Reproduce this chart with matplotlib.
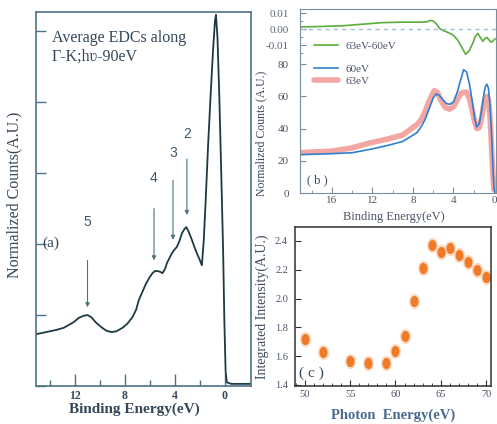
import numpy as np
import matplotlib
matplotlib.use("Agg")
import matplotlib.pyplot as plt
from matplotlib.ticker import MultipleLocator, FixedLocator

plt.rcParams['font.family'] = 'Liberation Serif'

W, H = 497, 424

def box(l, t, r, b):
    # pixel box -> figure fraction
    return [l / W, 1 - b / H, (r - l) / W, (b - t) / H]

### (a) average EDC along Gamma-K, hv = 90 eV
edc_e = [15.1, 14.3, 13.5, 12.9, 12.5, 12.1, 11.7, 11.3, 11.0, 10.7, 10.3, 9.9,
         9.5, 9.1, 8.7, 8.2, 7.8, 7.4, 7.1, 6.9, 6.6, 6.3, 6.0, 5.8, 5.6, 5.4,
         5.2, 5.0, 4.8, 4.65, 4.45, 4.25, 4.05, 3.85, 3.65, 3.45, 3.25, 3.1,
         2.9, 2.65, 2.45, 2.25, 2.05, 1.85, 1.7, 1.55, 1.35, 1.15, 0.95, 0.8,
         0.72, 0.6, 0.45, 0.3, 0.15, 0.05, -0.05, -0.15, -0.5, -2.1]
edc_i = [0.73, 0.76, 0.79, 0.82, 0.86, 0.9, 0.96, 0.99, 1.0, 0.97, 0.89, 0.83,
         0.78, 0.76, 0.77, 0.82, 0.88, 0.97, 1.08, 1.21, 1.33, 1.45, 1.54, 1.59,
         1.62, 1.62, 1.61, 1.59, 1.65, 1.73, 1.8, 1.87, 1.92, 1.96, 2.04, 2.15,
         2.21, 2.24, 2.17, 2.06, 1.96, 1.87, 1.79, 1.7, 2.05, 2.6, 3.4, 4.1,
         4.75, 5.15, 5.23, 4.9, 4.05, 3.0, 1.9, 0.9, 0.2, 0.05, 0.03, 0.03]

peak_labels = ['5', '4', '3', '2']
peak_e = [11.0, 5.68, 4.16, 3.05]
peak_tip = [1.11, 1.77, 2.06, 2.41]
peak_tail = [1.77, 2.5, 2.9, 3.2]
peak_text = [2.31, 2.93, 3.28, 3.55]

### (b) EDCs at 60 eV and 63 eV and their difference
b60_e = [19.3, 18.0, 16.0, 14.0, 12.3, 10.5, 9.0, 7.6, 7.2, 6.8, 6.3, 6.0,
         5.7, 5.4, 5.0, 4.7, 4.36, 4.0, 3.6, 3.3, 3.0, 2.7, 2.4, 2.1, 1.9,
         1.7, 1.45, 1.2, 1.0, 0.85, 0.7, 0.55, 0.4, 0.25, 0.1, 0.0, -0.1]
b60_i = [23.8, 24.0, 24.4, 25.0, 27.0, 29.5, 32.0, 37.5, 41.0, 45.6, 54.0, 59.0,
         61.5, 60.5, 57.5, 55.5, 55.0, 56.5, 63.0, 70.0, 76.5, 75.0, 67.0, 55.0,
         46.0, 41.0, 43.0, 52.0, 61.0, 66.0, 67.5, 65.0, 55.0, 38.0, 15.0, 3.0, 0.0]
b63_e = [19.3, 18.0, 16.0, 14.0, 12.3, 10.5, 9.0, 7.6, 7.2, 6.8, 6.3, 5.9,
         5.6, 5.2, 4.8, 4.4, 4.0, 3.6, 3.3, 3.0, 2.7, 2.4, 2.1, 1.9, 1.7,
         1.45, 1.2, 1.0, 0.85, 0.7, 0.55, 0.4, 0.25, 0.12, 0.0]
b63_i = [25.0, 25.4, 26.0, 28.0, 31.0, 33.5, 36.0, 42.5, 45.5, 50.6, 58.5, 63.5,
         62.5, 57.0, 53.0, 52.0, 53.5, 58.0, 61.5, 62.5, 62.5, 58.0, 50.0, 44.0,
         40.0, 40.5, 47.0, 55.0, 59.0, 60.0, 58.0, 48.0, 30.0, 12.0, 2.0]
diff_e = [19.2, 17.0, 15.0, 13.0, 11.0, 9.0, 7.0, 6.6, 6.3, 6.0, 5.7, 5.35,
          5.0, 4.7, 4.36, 3.96, 3.56, 3.2, 2.8, 2.45, 2.1, 1.85, 1.6, 1.35,
          1.1, 0.9, 0.7, 0.5, 0.3, 0.1, -0.1]
diff_i = [0.0015, 0.0018, 0.0022, 0.0032, 0.0042, 0.0045, 0.0045, 0.0047, 0.0056,
          0.0052, 0.0035, 0.0004, -0.0008, -0.0015, -0.0025, -0.004, -0.0069,
          -0.011, -0.0156, -0.0135, -0.0088, -0.0045, -0.0025, -0.005, -0.0075,
          -0.0058, -0.005, -0.0065, -0.008, -0.0072, -0.006]

### (c) integrated intensity vs photon energy
photon = [50, 52, 55, 57, 59, 60, 61, 62, 63, 64, 65, 66, 67, 68, 69, 70]
intens = [1.72, 1.63, 1.57, 1.55, 1.55, 1.635, 1.74, 1.98, 2.21, 2.37, 2.32,
          2.35, 2.30, 2.255, 2.20, 2.152]

fig = plt.figure(figsize=(W / 100, H / 100), dpi=100)

txt = '#34475a'
frame_a = '#4d7286'

# ---------------- (a)
axa = fig.add_axes(box(36, 12, 251, 386))
axa.plot(edc_e, edc_i, color='#1d3a42', lw=1.3)
axa.set_xlim(15.12, -2.08)
axa.set_ylim(0, 5.27)
axa.xaxis.set_major_locator(FixedLocator([12, 8, 4, 0]))
axa.xaxis.set_minor_locator(FixedLocator([14, 10, 6, 2]))
axa.yaxis.set_major_locator(MultipleLocator(1))
axa.set_yticklabels([])
axa.tick_params(which='both', direction='in', colors=frame_a, labelcolor=txt,
                width=1.0, labelsize=8.5)
axa.tick_params(axis='x', which='major', length=9, pad=3)
axa.tick_params(axis='x', which='minor', length=4)
axa.tick_params(axis='y', which='major', length=7)
for lab in axa.get_xticklabels():
    lab.set_fontweight('bold')
for sp in axa.spines.values():
    sp.set_color(frame_a)
    sp.set_linewidth(1.2)
axa.set_xlabel('Binding Energy(eV)', fontsize=11, fontweight='bold', color=txt,
               labelpad=1)
axa.xaxis.set_label_coords(0.455, -0.045)
axa.set_ylabel('Normalized Counts(A.U.)', fontsize=11.5, color=txt)
axa.yaxis.set_label_coords(-0.062, 0.51)
axa.text(13.85, 5.02, 'Average EDCs along\n\u0393-K;h\u028b-90eV', fontsize=11.5,
         color=txt, va='top', linespacing=1.2)
axa.text(14.6, 2.01, '(a)', fontsize=11, color=txt, va='center')
for lab, e, tip, tail, ty in zip(peak_labels, peak_e, peak_tip, peak_tail, peak_text):
    axa.annotate('', xy=(e, tip), xytext=(e, tail),
                 arrowprops=dict(arrowstyle='-|>', color='#50707f', lw=0.8,
                                 mutation_scale=6, shrinkA=0, shrinkB=0))
    axa.text(e, ty, lab, fontsize=10, family='Liberation Sans', color='#3b5a70',
             ha='center', va='center')

# ---------------- (b) upper: difference
frame_b = '#7b8c9b'
axd = fig.add_axes(box(300, 9, 496, 58))
axd.plot(diff_e, diff_i, color='#5aae3c', lw=1.2, label='63eV-60eV')
axd.axhline(0, color='#9dbfd8', lw=1.0, ls=(0, (3, 3)))
axd.set_xlim(19.16, -0.2)
axd.set_ylim(-0.0179, 0.0127)
axd.set_xticks([])
axd.yaxis.set_major_locator(FixedLocator([-0.01, 0.0, 0.01]))
axd.yaxis.set_minor_locator(FixedLocator([-0.015, -0.005, 0.005]))
axd.set_yticklabels(['-0.01', '0.00', '0.01'])
axd.tick_params(which='both', direction='in', colors=frame_b, labelcolor='#5a6a7c',
                labelsize=8, length=4, pad=8)
axd.tick_params(which='minor', length=2.5)
axd.spines['bottom'].set_visible(False)
for sp in axd.spines.values():
    sp.set_color(frame_b)
axd.legend(loc='center left', bbox_to_anchor=(0.07, 0.24), frameon=False,
           fontsize=8, handlelength=2.2, handletextpad=0.7, borderpad=0,
           borderaxespad=0, labelcolor='#4a5468')

# ---------------- (b) lower: EDCs
axb = fig.add_axes(box(300, 58, 496, 193))
axb.plot(b63_e, b63_i, color='#ee7770', lw=4.0, alpha=0.65, label='63eV',
         solid_capstyle='round')
axb.plot(b60_e, b60_i, color='#2f7fcc', lw=1.2, label='60eV')
axb.set_xlim(19.16, -0.2)
axb.set_ylim(0, 83.75)
axb.xaxis.set_major_locator(FixedLocator([16, 12, 8, 4, 0]))
axb.xaxis.set_minor_locator(FixedLocator([18, 14, 10, 6, 2]))
axb.yaxis.set_major_locator(MultipleLocator(20))
axb.tick_params(which='both', direction='in', colors=frame_b, labelcolor='#4a5468',
                labelsize=8, length=4, pad=2)
axb.tick_params(axis='y', pad=8)
axb.tick_params(which='minor', length=2)
axb.spines['top'].set_visible(False)
for sp in axb.spines.values():
    sp.set_color(frame_b)
h, l = axb.get_legend_handles_labels()
axb.legend(h[::-1], l[::-1], loc='center left', bbox_to_anchor=(0.07, 0.876),
           frameon=False, fontsize=8, handlelength=2.2, handletextpad=0.7,
           borderpad=0, borderaxespad=0, labelspacing=0.2, labelcolor='#4a5468')
axb.text(18.5, 6, '( b )', fontsize=9, color='#3a4a5c')
axb.set_xlabel('Binding Energy(eV)', fontsize=9, color='#4a5468')
axb.xaxis.set_label_coords(0.48, -0.13)
axb.set_ylabel('Normalized Counts (A.U.)', fontsize=8.5, color='#3a4a5c')
axb.yaxis.set_label_coords(-0.165, 0.44)

# ---------------- (c)
t = np.linspace(0, 2 * np.pi, 40)
ellipse = np.column_stack([0.72 * np.cos(t), np.sin(t)])
axc = fig.add_axes(box(295, 227, 491, 386))
axc.plot(photon, intens, ls='none', marker=ellipse, ms=11, color='#f9c09a',
         mec='none', alpha=0.6)
axc.plot(photon, intens, ls='none', marker=ellipse, ms=8, color='#f07a28', mec='none')
axc.set_xlim(48.9, 70.55)
axc.set_ylim(1.393, 2.497)
axc.xaxis.set_major_locator(MultipleLocator(5))
axc.xaxis.set_minor_locator(MultipleLocator(1))
axc.yaxis.set_major_locator(FixedLocator([1.4, 1.6, 1.8, 2.0, 2.2, 2.4]))
axc.tick_params(which='both', direction='in', colors='#303030', labelcolor='#4a5468',
                labelsize=7.5, length=4, pad=3)
axc.tick_params(which='minor', length=2.5)
axc.tick_params(axis='y', pad=5)
for sp in axc.spines.values():
    sp.set_color('#303030')
    sp.set_linewidth(1.1)
axc.text(49.3, 1.48, '( c )', fontsize=11, color='#3a4a5c', va='center')
axc.set_xlabel('Photon  Energy(eV)', fontsize=10.5, fontweight='bold',
               color='#4a6a90', labelpad=7)
axc.set_ylabel('Integrated Intensity(A.U.)', fontsize=10, color='#3a4a5c')
axc.yaxis.set_label_coords(-0.135, 0.50)

fig.savefig('out.png', dpi=100)
